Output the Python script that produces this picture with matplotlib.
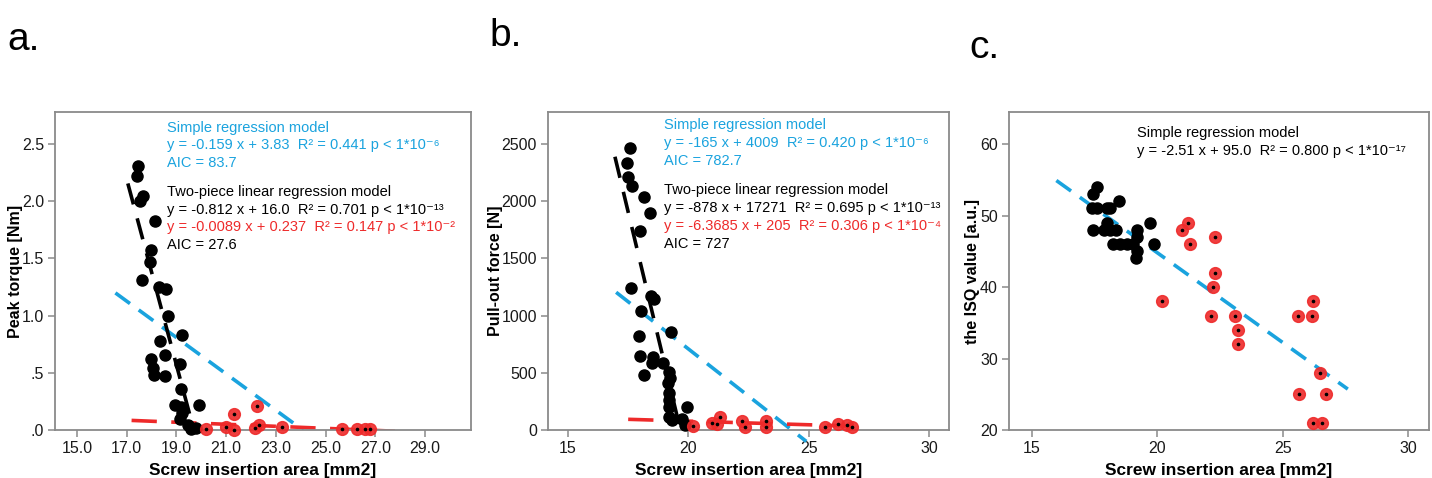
import numpy as np
import matplotlib
matplotlib.use("Agg")
import matplotlib.pyplot as plt

plt.rcParams['font.family'] = ['Liberation Sans', 'DejaVu Sans']

BLUE = '#1aa3de'
RED = '#ee2a2a'
SPINE = '#8a8a8a'

# ---------------- panel a: peak torque ----------------
a_black_x = [17.45, 17.41, 17.67, 17.55, 18.14, 18.0, 17.96, 17.6, 18.32, 18.58, 18.67, 19.21,
             18.34, 18.0, 18.54, 18.07, 19.14, 18.1, 18.54, 19.18, 18.94, 19.2, 19.92, 19.22,
             19.14, 19.46, 19.81, 19.6]
a_black_y = [2.31, 2.22, 2.05, 2.00, 1.83, 1.57, 1.47, 1.31, 1.25, 1.23, 1.00, 0.83,
             0.78, 0.62, 0.66, 0.54, 0.58, 0.48, 0.47, 0.36, 0.22, 0.20, 0.22, 0.15,
             0.10, 0.04, 0.02, 0.01]
a_red_x = [20.19, 21.0, 21.3, 21.33, 22.23, 22.16, 22.33, 23.23, 25.65, 26.25, 26.6, 26.77]
a_red_y = [0.006, 0.03, 0.0, 0.14, 0.21, 0.015, 0.04, 0.03, 0.01, 0.01, 0.005, 0.005]

# ---------------- panel b: pull-out force ----------------
b_black_x = [17.56, 17.45, 17.48, 17.66, 18.14, 18.39, 18.0, 17.62, 18.03, 18.45, 18.58, 17.97,
             19.28, 18.0, 18.54, 18.5, 18.96, 18.17, 19.21, 19.25, 19.15, 19.21, 19.21, 19.18,
             19.93, 19.21, 19.31, 19.72, 19.86]
b_black_y = [2468, 2337, 2215, 2133, 2034, 1900, 1743, 1238, 1043, 1171, 1142, 822,
             859, 647, 641, 583, 589, 481, 510, 452, 408, 320, 262, 204,
             204, 117, 90, 93, 44]
b_red_x = [20.21, 20.97, 21.31, 21.2, 22.22, 22.35, 23.23, 23.23, 25.68, 26.23, 26.58, 26.8]
b_red_y = [38, 58, 111, 50, 82, 29, 82, 29, 23, 52, 44, 25]

# ---------------- panel c: ISQ value ----------------
c_black_x = [17.58, 17.45, 17.38, 17.58, 17.98, 18.11, 18.48, 17.98, 17.42, 17.86, 18.1, 18.37,
             19.18, 19.18, 19.71, 18.24, 18.51, 18.78, 19.04, 19.87, 19.18, 19.15]
c_black_y = [54, 53, 51, 51, 51, 51, 52, 49, 48, 48, 48, 48,
             48, 47, 49, 46, 46, 46, 46, 46, 45, 44]
c_red_x = [20.18, 20.97, 21.24, 21.31, 22.3, 22.3, 22.21, 22.13, 23.1, 23.23, 23.2, 25.62,
           25.66, 26.22, 26.19, 26.22, 26.59, 26.51, 26.75]
c_red_y = [38, 48, 49, 46, 47, 42, 40, 36, 36, 34, 32, 36,
           25, 38, 36, 21, 21, 28, 25]

# regression models: (slope, intercept, x start, x end)
a_simple = (-0.159, 3.83, 16.55, 24.1)
a_piece1 = (-0.812, 16.0, 17.05, 19.65)
a_piece2 = (-0.0089, 0.237, 17.2, 27.8)
b_simple = (-165, 4009, 17.0, 24.9)
b_piece1 = (-878, 17271, 16.95, 19.67)
b_piece2 = (-6.3685, 205, 17.5, 27.35)
c_simple = (-2.51, 95.0, 15.97, 27.6)

a_text = [("Simple regression model", BLUE),
          ("y = -0.159 x + 3.83  R² = 0.441 p < 1*10⁻⁶", BLUE),
          ("AIC = 83.7", BLUE),
          ("Two-piece linear regression model", 'black'),
          ("y = -0.812 x + 16.0  R² = 0.701 p < 1*10⁻¹³", 'black'),
          ("y = -0.0089 x + 0.237  R² = 0.147 p < 1*10⁻²", RED),
          ("AIC = 27.6", 'black')]
b_text = [("Simple regression model", BLUE),
          ("y = -165 x + 4009  R² = 0.420 p < 1*10⁻⁶", BLUE),
          ("AIC = 782.7", BLUE),
          ("Two-piece linear regression model", 'black'),
          ("y = -878 x + 17271  R² = 0.695 p < 1*10⁻¹³", 'black'),
          ("y = -6.3685 x + 205  R² = 0.306 p < 1*10⁻⁴", RED),
          ("AIC = 727", 'black')]
c_text = [("Simple regression model", 'black'),
          ("y = -2.51 x + 95.0  R² = 0.800 p < 1*10⁻¹⁷", 'black')]


def draw_line(ax, model, color, dashes, clip=True):
    k, b, x0, x1 = model
    xs = np.array([x0, x1])
    ax.plot(xs, k * xs + b, color=color, lw=2.6, dashes=dashes, zorder=2, clip_on=clip)


def scatter(ax, bx, by, rx, ry):
    ax.plot(bx, by, 'o', color='black', ms=8, zorder=3, clip_on=False)
    ax.plot(rx, ry, 'o', color=RED, ms=8.5, zorder=3, clip_on=False, alpha=0.9)
    ax.plot(rx, ry, 'o', color='black', ms=1.6, zorder=4, clip_on=False)


def style(ax, xlim, ylim, xticks, xlabels, yticks, ylabels, ylabel, ylab_x):
    ax.set_xlim(*xlim)
    ax.set_ylim(*ylim)
    ax.set_xticks(xticks)
    ax.set_xticklabels(xlabels)
    ax.set_yticks(yticks)
    ax.set_yticklabels(ylabels)
    for s in ax.spines.values():
        s.set_color(SPINE)
        s.set_linewidth(1.3)
    ax.tick_params(direction='out', length=5, width=1.1, color=SPINE,
                   labelsize=11.5, labelcolor='#1a1a1a', pad=3)
    ax.set_xlabel("Screw insertion area [mm2]", fontsize=12.5, fontweight='bold')
    ax.set_ylabel(ylabel, fontsize=11.5, fontweight='bold')
    ax.xaxis.set_label_coords(0.5, -0.126)
    ax.yaxis.set_label_coords(ylab_x, 0.5)
    ax.yaxis.label.set_va('center')
    ax.xaxis.label.set_va('center')


def annotate(ax, lines, x, ys):
    for (txt, col), y in zip(lines, ys):
        ax.text(x, y, txt, color=col, fontsize=10.5, transform=ax.transAxes,
                va='center', ha='left')


fig = plt.figure(figsize=(14.32, 4.78), dpi=100)

ax1 = fig.add_axes([0.0384, 0.1004, 0.2905, 0.6653])
draw_line(ax1, a_simple, BLUE, (5, 3))
draw_line(ax1, a_piece2, RED, (7, 4))
draw_line(ax1, a_piece1, 'black', (6, 4))
scatter(ax1, a_black_x, a_black_y, a_red_x, a_red_y)
style(ax1, (14.12, 30.85), (0, 2.78), np.arange(15, 30, 2),
      ["%.1f" % v for v in np.arange(15, 30, 2)],
      [0, 0.5, 1.0, 1.5, 2.0, 2.5], [".0", ".5", "1.0", "1.5", "2.0", "2.5"],
      "Peak torque [Nm]", -0.096)
annotate(ax1, a_text, 0.269, [0.950, 0.896, 0.841, 0.749, 0.692, 0.639, 0.582])

ax2 = fig.add_axes([0.3827, 0.1004, 0.2800, 0.6653])
draw_line(ax2, b_simple, BLUE, (5, 3), clip=False)
draw_line(ax2, b_piece2, RED, (7, 4))
draw_line(ax2, b_piece1, 'black', (6, 4))
scatter(ax2, b_black_x, b_black_y, b_red_x, b_red_y)
style(ax2, (14.17, 30.83), (0, 2780), [15, 20, 25, 30], ["15", "20", "25", "30"],
      [0, 500, 1000, 1500, 2000, 2500], ["0", "500", "1000", "1500", "2000", "2500"],
      "Pull-out force [N]", -0.132)
annotate(ax2, b_text, 0.289, [0.959, 0.902, 0.846, 0.755, 0.697, 0.642, 0.585])

ax3 = fig.add_axes([0.7046, 0.1004, 0.2933, 0.6653])
draw_line(ax3, c_simple, BLUE, (5, 3))
scatter(ax3, c_black_x, c_black_y, c_red_x, c_red_y)
style(ax3, (14.08, 30.84), (20, 64.5), [15, 20, 25, 30], ["15", "20", "25", "30"],
      [20, 30, 40, 50, 60], ["20", "30", "40", "50", "60"],
      "the ISQ value [a.u.]", -0.086)
annotate(ax3, c_text, 0.304, [0.935, 0.878])

for lab, x, y in [("a.", 0.005, 0.895), ("b.", 0.342, 0.904), ("c.", 0.677, 0.879)]:
    fig.text(x, y, lab, fontsize=28, ha='left', va='baseline')

fig.savefig("out.png", dpi=100)
